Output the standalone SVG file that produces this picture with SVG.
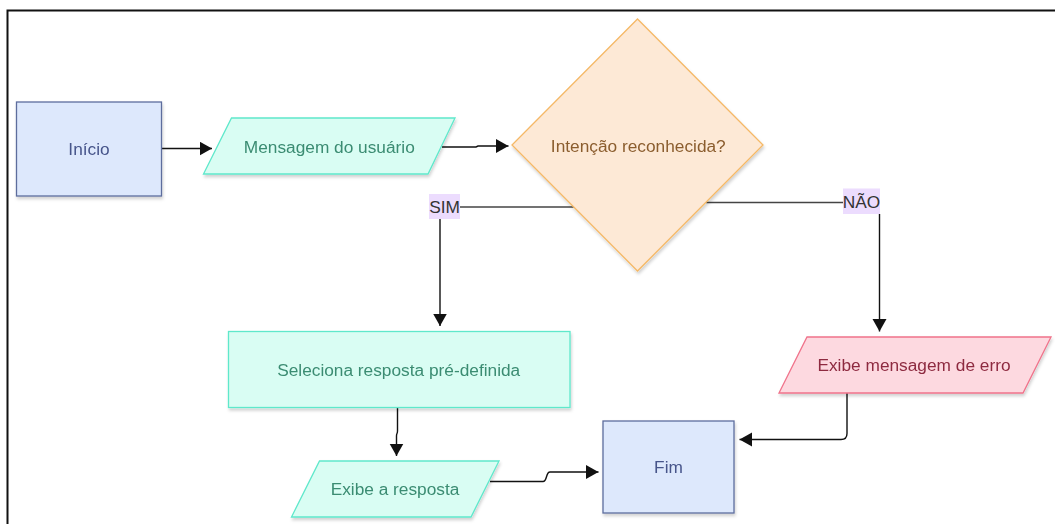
<svg xmlns="http://www.w3.org/2000/svg" width="1055" height="524" viewBox="0 0 1055 524">
  <defs>
    <filter id="shadow" x="-10%" y="-10%" width="130%" height="140%">
      <feDropShadow dx="1" dy="2.5" stdDeviation="1.8" flood-color="#000" flood-opacity="0.18"/>
    </filter>
    <marker id="arrow" markerUnits="userSpaceOnUse" markerWidth="13" markerHeight="15" refX="12.5" refY="7" orient="auto">
      <path d="M0,0 L12.5,7 L0,14 Z" fill="#111"/>
    </marker>
    <style>
      text { font-family: "Liberation Sans", Arial, sans-serif; font-size: 17.3px; text-anchor: middle; }
      .blue { fill: #dde8fc; stroke: #5d6d9d; stroke-width: 1.3; }
      .blue-t { fill: #46548a; }
      .mint { fill: #d9fdf3; stroke: #5fe8cb; stroke-width: 1.3; }
      .mint-t { fill: #3b8c72; }
      .orange { fill: #fde9d6; stroke: #f5b866; stroke-width: 1.3; }
      .orange-t { fill: #8b5d2e; }
      .pink { fill: #fdd9e0; stroke: #f0738b; stroke-width: 1.3; }
      .pink-t { fill: #8e2b41; }
      .edge { fill: none; stroke: #111; stroke-width: 1.4; }
      .branch { fill: none; stroke: #444; stroke-width: 1.4; }
      .lbl-bg { fill: #ecdcfe; }
      .lbl-t { fill: #333; }
    </style>
  </defs>

  <rect width="1055" height="524" fill="#ffffff"/>

  <!-- frame -->
  <path d="M7.5,524 V10.5 H1055" fill="none" stroke="#111" stroke-width="2"/>

  <!-- connectors -->
  <g id="connectors">
    <path class="edge" d="M161.5,148.5 H212" marker-end="url(#arrow)"/>
    <path class="edge" d="M442,147 H476 L478,146 H508.5" marker-end="url(#arrow)"/>
    <path class="branch" d="M573.8,207 H440"/>
    <path class="edge" d="M440,219 V326" marker-end="url(#arrow)"/>
    <path class="branch" d="M706.2,202.5 H879.5"/>
    <path class="edge" d="M879.5,214 V331.5" marker-end="url(#arrow)"/>
    <path class="edge" d="M397.5,407.5 V431 C397.5,434 396.5,433 396.5,436 V456" marker-end="url(#arrow)"/>
    <path class="edge" d="M490,481.5 H543 C547.5,481.5 545.5,472 550,472 H598.5" marker-end="url(#arrow)"/>
    <path class="edge" d="M847,393 V433.5 Q847,439.5 841,439.5 H739.5" marker-end="url(#arrow)"/>
    <g id="label-sim">
      <rect class="lbl-bg" x="429" y="194" width="31" height="25"/>
      <text class="lbl-t" x="444.5" y="212.8">SIM</text>
    </g>
    <g id="label-nao">
      <rect class="lbl-bg" x="843" y="188.5" width="37" height="25.5"/>
      <text class="lbl-t" x="861.5" y="207.5">NÃO</text>
    </g>
  </g>

  <!-- nodes -->
  <g id="inicio" filter="url(#shadow)">
    <rect class="blue" x="16.5" y="102" width="145" height="94"/>
    <text class="blue-t" x="89" y="154.8">Início</text>
  </g>

  <g id="mensagem" filter="url(#shadow)">
    <polygon class="mint" points="231.5,118 455,118 428,174 203.5,174"/>
    <text class="mint-t" x="329.3" y="152.6">Mensagem do usuário</text>
  </g>

  <g id="decisao" filter="url(#shadow)">
    <polygon class="orange" points="637.5,19 763,145 637.5,271 512,145"/>
    <text class="orange-t" x="638.3" y="151.6">Intenção reconhecida?</text>
  </g>

  <g id="seleciona" filter="url(#shadow)">
    <rect class="mint" x="228.5" y="331.5" width="341.5" height="76"/>
    <text class="mint-t" x="398.7" y="375.5">Seleciona resposta pré-definida</text>
  </g>

  <g id="exibe-resposta" filter="url(#shadow)">
    <polygon class="mint" points="319.5,461 499,461 471,517 291.5,517"/>
    <text class="mint-t" x="395" y="495.3">Exibe a resposta</text>
  </g>

  <g id="erro" filter="url(#shadow)">
    <polygon class="pink" points="807,337 1051,337 1023,393 779,393"/>
    <text class="pink-t" x="914" y="371">Exibe mensagem de erro</text>
  </g>

  <g id="fim" filter="url(#shadow)">
    <rect class="blue" x="603" y="421" width="131" height="92"/>
    <text class="blue-t" x="668.5" y="473">Fim</text>
  </g>
</svg>
